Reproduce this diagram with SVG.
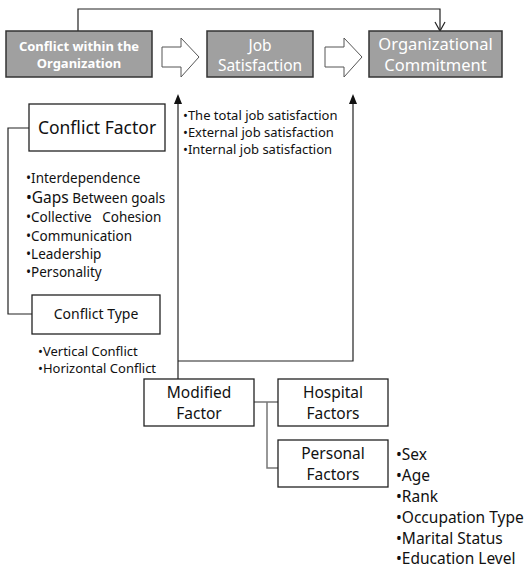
<svg xmlns="http://www.w3.org/2000/svg" width="530" height="568" viewBox="0 0 530 568">
<defs>
<style>
text{font-family:"Noto Sans","Open Sans","DejaVu Sans",sans-serif;fill:#111}
.gbox{fill:#a0a0a0;stroke:#333;stroke-width:1.5}
.wbox{fill:#fff;stroke:#222;stroke-width:1.3}
.wt{fill:#fff}
.ln{fill:none;stroke:#222;stroke-width:1.2}
.gl{fill:none;stroke:#777;stroke-width:1.5}
.blk{fill:#fff;stroke:#555;stroke-width:1}
.hd{fill:#111}
</style>
</defs>
<g id="connectors">
<path class="ln" d="M78,31 V9 H440 V31"/>
<path class="ln" d="M435,22 L440,31 L445,22"/>
<polygon class="blk" points="162,47 181,47 181,38 199,57 181,77 181,67 162,67"/>
<polygon class="blk" points="325,47 344,47 344,38 362,57 344,77 344,67 325,67"/>
<path class="ln" d="M178,379 V98"/>
<path class="hd" d="M174,104 L178,94 L182,104 Z"/>
<path class="ln" d="M178,361 H353 V98"/>
<path class="hd" d="M349,104 L353,94 L357,104 Z"/>
<path class="ln" d="M29,128 H8 V314 H32"/>
<path class="gl" d="M254,402 H278 M267,402 V468 H278"/>
</g>
<g id="conflict-org">
<rect class="gbox" x="6" y="31" width="146" height="46"/>
<text class="wt" x="79" y="51" font-size="13" font-weight="bold" text-anchor="middle">Conflict within the</text>
<text class="wt" x="79" y="68" font-size="13" font-weight="bold" text-anchor="middle">Organization</text>
</g>
<g id="job-sat">
<rect class="gbox" x="207" y="31" width="106" height="46"/>
<text class="wt" x="260" y="51" font-size="15.5" text-anchor="middle">Job</text>
<text class="wt" x="260" y="71" font-size="15.5" text-anchor="middle">Satisfaction</text>
</g>
<g id="org-commit">
<rect class="gbox" x="369" y="31" width="133" height="46"/>
<text class="wt" x="435.5" y="50" font-size="16.5" text-anchor="middle">Organizational</text>
<text class="wt" x="435.5" y="71" font-size="16.5" text-anchor="middle">Commitment</text>
</g>
<g id="job-list" font-size="13">
<text x="183" y="120">•The total job satisfaction</text>
<text x="183" y="137">•External job satisfaction</text>
<text x="183" y="154">•Internal job satisfaction</text>
</g>
<g id="conflict-factor">
<rect class="wbox" x="29" y="104" width="136" height="47"/>
<text x="97" y="134" font-size="17.5" text-anchor="middle">Conflict Factor</text>
</g>
<g id="factor-list" font-size="13.5">
<text x="26" y="183">•Interdependence</text>
<text x="26" y="203"><tspan font-size="15.5">•Gaps</tspan> Between goals</text>
<text x="26" y="222" xml:space="preserve" style="white-space:pre">•Collective   Cohesion</text>
<text x="26" y="241">•Communication</text>
<text x="26" y="259">•Leadership</text>
<text x="26" y="277">•Personality</text>
</g>
<g id="conflict-type">
<rect class="wbox" x="32" y="295" width="128" height="39"/>
<text x="96" y="319" font-size="14" text-anchor="middle">Conflict Type</text>
</g>
<g id="type-list" font-size="13">
<text x="38" y="356">•Vertical Conflict</text>
<text x="38" y="373">•Horizontal Conflict</text>
</g>
<g id="modified">
<rect class="wbox" x="144" y="379" width="110" height="47"/>
<text x="199" y="398" font-size="15.5" text-anchor="middle">Modified</text>
<text x="199" y="419" font-size="15.5" text-anchor="middle">Factor</text>
</g>
<g id="hospital">
<rect class="wbox" x="278" y="379" width="110" height="47"/>
<text x="333" y="398" font-size="15.5" text-anchor="middle">Hospital</text>
<text x="333" y="419" font-size="15.5" text-anchor="middle">Factors</text>
</g>
<g id="personal">
<rect class="wbox" x="278" y="440" width="110" height="47"/>
<text x="333" y="459" font-size="15.5" text-anchor="middle">Personal</text>
<text x="333" y="480" font-size="15.5" text-anchor="middle">Factors</text>
</g>
<g id="personal-list" font-size="15.5">
<text x="396" y="460">•Sex</text>
<text x="396" y="481">•Age</text>
<text x="396" y="502">•Rank</text>
<text x="396" y="523">•Occupation Type</text>
<text x="396" y="544">•Marital Status</text>
<text x="396" y="564">•Education Level</text>
</g>
</svg>
